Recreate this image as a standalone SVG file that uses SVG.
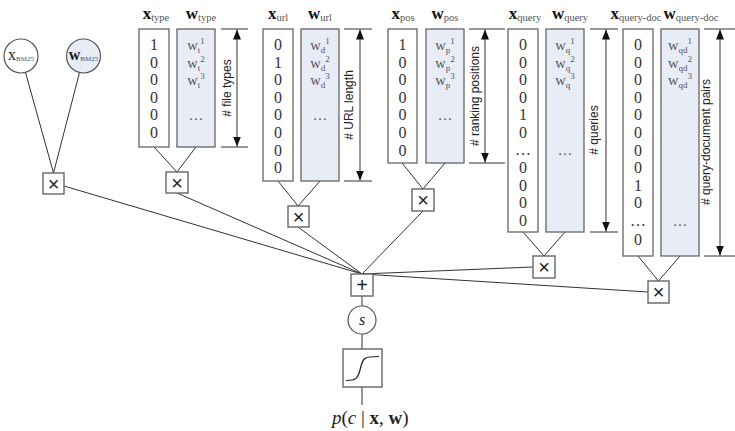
<svg xmlns="http://www.w3.org/2000/svg" width="735" height="431" viewBox="0 0 735 431">
<style>
text{font-family:"Liberation Serif","DejaVu Serif",serif;}
.col{fill:#fff;stroke:#666;stroke-width:1.3}
.wcol{fill:#e8ecf7;stroke:#666;stroke-width:1.3}
.op{fill:#fff;stroke:#666;stroke-width:1.4}
.val{font-size:16px;fill:#333;text-anchor:middle}
.w{font-size:14.5px;fill:#555;text-anchor:middle}
.s{font-size:9px}
.hd{font-size:17px;fill:#111;text-anchor:middle}
.hb{font-weight:bold}
.hs{font-size:10.5px;fill:#555}
.dim{stroke:#333;stroke-width:1;fill:none}
.dl{font-family:"Liberation Sans",Arial,sans-serif;font-size:12px;fill:#222;text-anchor:middle}
.sym{font-family:"Liberation Sans",Arial,sans-serif;font-size:20px;fill:#222;text-anchor:middle}
.conn line,.conn path{stroke:#333;stroke-width:1;fill:none}
</style>
<defs>
<marker id="ah" viewBox="0 0 10 8" refX="10" refY="4" markerWidth="10" markerHeight="8" markerUnits="userSpaceOnUse" orient="auto-start-reverse">
<path d="M0,0 L10,4 L0,8 z" fill="#111"/>
</marker>
</defs>

<g id="connectors" class="conn">
<line x1="25.5" y1="72.5" x2="53.5" y2="173"/>
<line x1="79.5" y1="72.5" x2="53.5" y2="173"/>
<line x1="154" y1="147" x2="177" y2="172"/>
<line x1="196" y1="147" x2="177" y2="172"/>
<line x1="278" y1="181" x2="298" y2="206"/>
<line x1="320" y1="181" x2="298" y2="206"/>
<line x1="402" y1="163" x2="423" y2="189"/>
<line x1="445" y1="163" x2="423" y2="189"/>
<line x1="523" y1="232" x2="544" y2="256"/>
<line x1="565" y1="232" x2="544" y2="256"/>
<line x1="638" y1="256" x2="658.5" y2="281"/>
<line x1="680" y1="256" x2="658.5" y2="281"/>
<line x1="64" y1="186" x2="362" y2="274"/>
<line x1="177" y1="193" x2="362" y2="274"/>
<line x1="298" y1="227" x2="362" y2="274"/>
<line x1="423" y1="211" x2="362" y2="274"/>
<line x1="533" y1="267" x2="362" y2="274"/>
<line x1="648" y1="292" x2="362" y2="274"/>
<line x1="362" y1="296" x2="362" y2="306"/>
<line x1="362" y1="334" x2="362" y2="349"/>
<line x1="362" y1="387" x2="362" y2="405"/>
</g>

<g id="x_bm25">
<circle cx="21" cy="56" r="17" fill="#fff" stroke="#555" stroke-width="1.2"/>
<text x="21" y="60" text-anchor="middle" font-size="16" fill="#222">x<tspan font-size="7" fill="#555" dy="1">BM25</tspan></text>
</g>
<g id="w_bm25">
<circle cx="83.5" cy="56" r="17" fill="#e8ecf7" stroke="#555" stroke-width="1.2"/>
<text x="83.5" y="60" text-anchor="middle" font-size="16" fill="#222" font-weight="bold">w<tspan font-size="7" font-weight="normal" fill="#555" dy="1">BM25</tspan></text>
</g>
<g id="mult_bm25">
<rect class="op" x="43" y="173" width="21" height="21"/>
<text class="sym" x="53.5" y="191">×</text>
</g>

<!-- type -->
<g id="x_type">
<text class="hd" x="156" y="19"><tspan class="hb">x</tspan><tspan class="hs" dy="2">type</tspan></text>
<rect class="col" x="139" y="29" width="30" height="118"/>
<text class="val" x="154" y="50">1</text><text class="val" x="154" y="68">0</text><text class="val" x="154" y="85">0</text><text class="val" x="154" y="103">0</text><text class="val" x="154" y="120">0</text><text class="val" x="154" y="138">0</text>
</g>
<g id="w_type">
<text class="hd" x="201" y="19"><tspan class="hb">w</tspan><tspan class="hs" dy="2">type</tspan></text>
<rect class="wcol" x="177" y="29" width="38" height="118"/>
<text class="w" x="196" y="50">w<tspan class="s" dy="2.5">t</tspan><tspan class="s" dy="-8.5">1</tspan></text>
<text class="w" x="196" y="68">w<tspan class="s" dy="2.5">t</tspan><tspan class="s" dy="-8.5">2</tspan></text>
<text class="w" x="196" y="85">w<tspan class="s" dy="2.5">t</tspan><tspan class="s" dy="-8.5">3</tspan></text>
<text class="w" x="196" y="120">…</text>
</g>
<g id="dim_type">
<line class="dim" x1="221" y1="29" x2="248" y2="29"/><line class="dim" x1="221" y1="147" x2="248" y2="147"/>
<line class="dim" x1="237" y1="29.5" x2="237" y2="146.5" marker-start="url(#ah)" marker-end="url(#ah)"/>
<text class="dl" transform="translate(231,88) rotate(-90)"># file types</text>
</g>
<g id="mult_type">
<rect class="op" x="166" y="172" width="22" height="21"/>
<text class="sym" x="177" y="190">×</text>
</g>

<!-- url -->
<g id="x_url">
<text class="hd" x="278" y="19"><tspan class="hb">x</tspan><tspan class="hs" dy="2">url</tspan></text>
<rect class="col" x="263" y="29" width="30" height="152"/>
<text class="val" x="278" y="50">0</text><text class="val" x="278" y="68">1</text><text class="val" x="278" y="85">0</text><text class="val" x="278" y="103">0</text><text class="val" x="278" y="120">0</text><text class="val" x="278" y="138">0</text><text class="val" x="278" y="156">0</text><text class="val" x="278" y="173">0</text>
</g>
<g id="w_url">
<text class="hd" x="320" y="19"><tspan class="hb">w</tspan><tspan class="hs" dy="2">url</tspan></text>
<rect class="wcol" x="301" y="29" width="38" height="152"/>
<text class="w" x="320" y="50">w<tspan class="s" dy="2.5">d</tspan><tspan class="s" dy="-8.5">1</tspan></text>
<text class="w" x="320" y="68">w<tspan class="s" dy="2.5">d</tspan><tspan class="s" dy="-8.5">2</tspan></text>
<text class="w" x="320" y="85">w<tspan class="s" dy="2.5">d</tspan><tspan class="s" dy="-8.5">3</tspan></text>
<text class="w" x="320" y="120">…</text>
</g>
<g id="dim_url">
<line class="dim" x1="344" y1="29" x2="372" y2="29"/><line class="dim" x1="344" y1="181" x2="372" y2="181"/>
<line class="dim" x1="360" y1="29.5" x2="360" y2="180.5" marker-start="url(#ah)" marker-end="url(#ah)"/>
<text class="dl" transform="translate(353,105) rotate(-90)"># URL length</text>
</g>
<g id="mult_url">
<rect class="op" x="288" y="206" width="21" height="21"/>
<text class="sym" x="298.5" y="224">×</text>
</g>

<!-- pos -->
<g id="x_pos">
<text class="hd" x="403" y="19"><tspan class="hb">x</tspan><tspan class="hs" dy="2">pos</tspan></text>
<rect class="col" x="388" y="29" width="29" height="134"/>
<text class="val" x="402.5" y="50">1</text><text class="val" x="402.5" y="68">0</text><text class="val" x="402.5" y="85">0</text><text class="val" x="402.5" y="103">0</text><text class="val" x="402.5" y="120">0</text><text class="val" x="402.5" y="138">0</text><text class="val" x="402.5" y="156">0</text>
</g>
<g id="w_pos">
<text class="hd" x="445" y="19"><tspan class="hb">w</tspan><tspan class="hs" dy="2">pos</tspan></text>
<rect class="wcol" x="426" y="29" width="38" height="134"/>
<text class="w" x="445" y="50">w<tspan class="s" dy="2.5">p</tspan><tspan class="s" dy="-8.5">1</tspan></text>
<text class="w" x="445" y="68">w<tspan class="s" dy="2.5">p</tspan><tspan class="s" dy="-8.5">2</tspan></text>
<text class="w" x="445" y="85">w<tspan class="s" dy="2.5">p</tspan><tspan class="s" dy="-8.5">3</tspan></text>
<text class="w" x="445" y="120">…</text>
</g>
<g id="dim_pos">
<line class="dim" x1="469" y1="29" x2="505" y2="29"/><line class="dim" x1="469" y1="163" x2="505" y2="163"/>
<line class="dim" x1="485" y1="29.5" x2="485" y2="162.5" marker-start="url(#ah)" marker-end="url(#ah)"/>
<text class="dl" transform="translate(479,96) rotate(-90)"># ranking positions</text>
</g>
<g id="mult_pos">
<rect class="op" x="412" y="189" width="22" height="22"/>
<text class="sym" x="423" y="207">×</text>
</g>

<!-- query -->
<g id="x_query">
<text class="hd" x="525" y="19"><tspan class="hb">x</tspan><tspan class="hs" dy="2">query</tspan></text>
<rect class="col" x="508" y="29" width="30" height="203"/>
<text class="val" x="523" y="50">0</text><text class="val" x="523" y="68">0</text><text class="val" x="523" y="85">0</text><text class="val" x="523" y="103">0</text><text class="val" x="523" y="120">1</text><text class="val" x="523" y="138">0</text><text class="val" x="523" y="155">…</text><text class="val" x="523" y="173">0</text><text class="val" x="523" y="191">0</text><text class="val" x="523" y="208">0</text><text class="val" x="523" y="226">0</text>
</g>
<g id="w_query">
<text class="hd" x="570" y="19"><tspan class="hb">w</tspan><tspan class="hs" dy="2">query</tspan></text>
<rect class="wcol" x="546" y="29" width="38" height="203"/>
<text class="w" x="565" y="50">w<tspan class="s" dy="2.5">q</tspan><tspan class="s" dy="-8.5">1</tspan></text>
<text class="w" x="565" y="68">w<tspan class="s" dy="2.5">q</tspan><tspan class="s" dy="-8.5">2</tspan></text>
<text class="w" x="565" y="85">w<tspan class="s" dy="2.5">q</tspan><tspan class="s" dy="-8.5">3</tspan></text>
<text class="w" x="565" y="155">…</text>
</g>
<g id="dim_query">
<line class="dim" x1="590" y1="29" x2="618" y2="29"/><line class="dim" x1="590" y1="232" x2="618" y2="232"/>
<line class="dim" x1="606" y1="29.5" x2="606" y2="231.5" marker-start="url(#ah)" marker-end="url(#ah)"/>
<text class="dl" transform="translate(598,130) rotate(-90)"># queries</text>
</g>
<g id="mult_query">
<rect class="op" x="533" y="256" width="22" height="22"/>
<text class="sym" x="544" y="274">×</text>
</g>

<!-- query-doc -->
<g id="x_querydoc">
<text class="hd" x="636" y="19"><tspan class="hb">x</tspan><tspan class="hs" dy="2">query-doc</tspan></text>
<rect class="col" x="623" y="29" width="30" height="227"/>
<text class="val" x="638" y="50">0</text><text class="val" x="638" y="68">0</text><text class="val" x="638" y="85">0</text><text class="val" x="638" y="103">0</text><text class="val" x="638" y="120">0</text><text class="val" x="638" y="138">0</text><text class="val" x="638" y="156">0</text><text class="val" x="638" y="173">0</text><text class="val" x="638" y="191">1</text><text class="val" x="638" y="208">0</text><text class="val" x="638" y="226">…</text><text class="val" x="638" y="245">0</text>
</g>
<g id="w_querydoc">
<text class="hd" x="691" y="19"><tspan class="hb">w</tspan><tspan class="hs" dy="2">query-doc</tspan></text>
<rect class="wcol" x="661" y="29" width="38" height="227"/>
<text class="w" x="680" y="50">w<tspan class="s" dy="2.5">qd</tspan><tspan class="s" dy="-8.5">1</tspan></text>
<text class="w" x="680" y="68">w<tspan class="s" dy="2.5">qd</tspan><tspan class="s" dy="-8.5">2</tspan></text>
<text class="w" x="680" y="85">w<tspan class="s" dy="2.5">qd</tspan><tspan class="s" dy="-8.5">3</tspan></text>
<text class="w" x="680" y="226">…</text>
</g>
<g id="dim_querydoc">
<line class="dim" x1="704" y1="29" x2="735" y2="29"/><line class="dim" x1="704" y1="256" x2="735" y2="256"/>
<line class="dim" x1="720" y1="29.5" x2="720" y2="255.5" marker-start="url(#ah)" marker-end="url(#ah)"/>
<text class="dl" transform="translate(710,142) rotate(-90)"># query-document pairs</text>
</g>
<g id="mult_querydoc">
<rect class="op" x="648" y="281" width="21" height="22"/>
<text class="sym" x="658.5" y="299">×</text>
</g>

<g id="sum">
<rect class="op" x="351" y="274" width="22" height="22"/>
<text class="sym" x="362" y="292">+</text>
</g>
<g id="score">
<circle cx="362" cy="320" r="14" fill="#fff" stroke="#555" stroke-width="1.2"/>
<text x="362" y="325" text-anchor="middle" font-size="16" font-style="italic" fill="#222">s</text>
</g>
<g id="sigmoid">
<rect class="op" x="343" y="349" width="39" height="38"/>
<path d="M346,380.5 C356,380.5 358,379 360.5,368 C363,357 365,356.5 379,356.5" fill="none" stroke="#222" stroke-width="1.2"/>
</g>
<g id="output">
<text x="332" y="424" font-size="19" fill="#222"><tspan font-style="italic">p</tspan>(<tspan font-style="italic">c</tspan> | <tspan font-weight="bold">x</tspan>, <tspan font-weight="bold">w</tspan>)</text>
</g>
</svg>
